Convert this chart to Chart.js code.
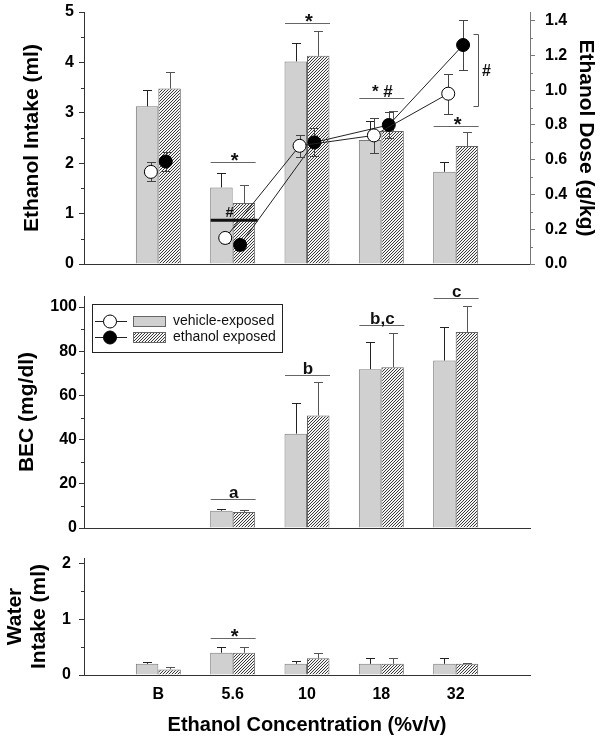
<!DOCTYPE html>
<html>
<head>
<meta charset="utf-8">
<script src="https://cdn.jsdelivr.net/npm/chart.js@4.4.1/dist/chart.umd.min.js"></script>
<style>
  html, body { margin: 0; padding: 0; background: #fff; }
  #page { position: relative; width: 602px; height: 743px; }
  .panel { position: absolute; left: 0; width: 602px; }
  .panel canvas { display: block; }
</style>
</head>
<body>
<div id="page">
  <div class="panel" style="top:0;height:268px"><canvas id="intake"></canvas></div>
  <div class="panel" style="top:0;height:268px"><canvas id="dose"></canvas></div>
  <div class="panel" style="top:280px;height:252px"><canvas id="bec"></canvas></div>
  <div class="panel" style="top:540px;height:203px"><canvas id="water"></canvas></div>
</div>
<script>
const concentrations = ['B', '5.6', '10', '18', '32'];
const groupNames = ['vehicle-exposed', 'ethanol exposed'];

// ethanol intake (ml), mean and SEM
const intakeVehicle = [3.13, 1.52, 4.02, 2.46, 1.83];
const intakeVehicleSem = [0.33, 0.29, 0.37, 0.38, 0.19];
const intakeEthanol = [3.48, 1.21, 4.13, 2.64, 2.34];
const intakeEthanolSem = [0.32, 0.36, 0.50, 0.39, 0.27];

// ethanol dose (g/kg)
const doseVehicle = [0.53, 0.15, 0.68, 0.74, 0.98];
const doseVehicleSem = [0.055, 0.03, 0.065, 0.10, 0.115];
const doseEthanol = [0.59, 0.11, 0.70, 0.80, 1.26];
const doseEthanolSem = [0.057, 0.03, 0.08, 0.075, 0.145];

// BEC (mg/dl)
const becVehicle = [null, 7.8, 42.7, 71.9, 75.8];
const becVehicleSem = [null, 0.6, 13.9, 12.3, 15.0];
const becEthanol = [null, 7.2, 50.9, 72.8, 88.7];
const becEthanolSem = [null, 1.1, 15.0, 15.4, 12.0];

// water intake (ml)
const waterVehicle = [0.20, 0.40, 0.20, 0.20, 0.20];
const waterVehicleSem = [0.03, 0.10, 0.05, 0.10, 0.10];
const waterEthanol = [0.10, 0.40, 0.30, 0.20, 0.20];
const waterEthanolSem = [0.035, 0.10, 0.10, 0.10, 0.02];

const intakeTicks = [0, 1, 2, 3, 4, 5];
const intakeMinor = [0.5, 1.5, 2.5, 3.5, 4.5];
const doseTicks = [0, 0.2, 0.4, 0.6, 0.8, 1.0, 1.2, 1.4];
const doseMinor = [0.1, 0.3, 0.5, 0.7, 0.9, 1.1, 1.3];
const becTicks = [0, 20, 40, 60, 80, 100];
const becMinor = [10, 30, 50, 70, 90];
const waterTicks = [0, 1, 2];
const waterMinor = [0.5, 1.5];

// significance marks
const intakeSig = [
    { cat: '5.6', y: 2.03, text: '*' },
    { cat: '10', y: 4.78, text: '*' },
    { cat: '18', y: 3.29, text: '* #' },
    { cat: '32', y: 2.74, text: '*' },
];
const intakeThreshold = { cat: '5.6', y: 0.87, text: '#' };
const doseBracket = { cat: '32', from: 0.91, to: 1.325, text: '#' };
const becSig = [
    { cat: '5.6', y: 13.3, text: 'a' },
    { cat: '10', y: 69.2, text: 'b' },
    { cat: '18', y: 91.9, text: 'b,c' },
    { cat: '32', y: 104.1, text: 'c' },
];
const waterSig = [
    { cat: '5.6', y: 0.66, text: '*' },
];

const FONT = "Arial, 'Liberation Sans', Helvetica, sans-serif";
const labels = ['', ...concentrations, ''];
const pad = (arr) => [null, ...arr, null];

const hatch = (() => {
    const c = document.createElement('canvas');
    c.width = 3;
    c.height = 3;
    const g = c.getContext('2d');
    g.fillStyle = '#f4f4f4';
    g.fillRect(0, 0, 3, 3);
    g.fillStyle = '#3a3a3a';
    g.fillRect(2, 0, 1, 1);
    g.fillRect(1, 1, 1, 1);
    g.fillRect(0, 2, 1, 1);
    return g.createPattern(c, 'repeat');
})();

const barSets = (veh, vehSem, eth, ethSem) => [
    {
        label: groupNames[0], data: pad(veh), errors: pad(vehSem), errColor: '#222',
        backgroundColor: '#d0d0d0', borderColor: '#7a7a7a', borderWidth: 1,
    },
    {
        label: groupNames[1], data: pad(eth), errors: pad(ethSem), errColor: '#555',
        backgroundColor: hatch, borderColor: '#666', borderWidth: 1,
    },
];

const doseSet = (vals, sem, filled) => ({
    label: groupNames[filled ? 1 : 0],
    yAxisID: 'y2',
    data: vals.map((v, i) => ({ x: i + 1 + (filled ? 0.1 : -0.1), y: v })),
    errors: sem,
    errColor: '#444',
    borderColor: '#222',
    borderWidth: 1,
    tension: 0,
    pointRadius: 6.5,
    pointBackgroundColor: filled ? '#000' : '#fff',
    pointBorderColor: '#000',
    pointBorderWidth: 1,
    segment: {
        // baseline (B) is not joined to the concentration series
        borderColor: (ctx) => ctx.p0DataIndex === 0 ? 'rgba(0,0,0,0)' : '#222',
    },
});

const drawErrors = (chart, meta, both) => {
    const ds = chart.data.datasets[meta.index];
    if (!ds.errors) {
        return;
    }
    const ys = chart.scales[meta.yAxisID];
    const ctx = chart.ctx;
    ctx.save();
    ctx.strokeStyle = ds.errColor;
    ctx.lineWidth = 1;
    ctx.beginPath();
    meta.data.forEach((el, i) => {
        const raw = ds.data[i];
        const v = raw !== null && typeof raw === 'object' ? raw.y : raw;
        const e = ds.errors[i];
        if (v == null || e == null) {
            return;
        }
        const x = Math.round(el.x) + 0.5;
        const top = Math.round(ys.getPixelForValue(v + e)) + 0.5;
        const bot = both ? Math.round(ys.getPixelForValue(v - e)) + 0.5 : ys.getPixelForValue(v);
        ctx.moveTo(x, bot);
        ctx.lineTo(x, top);
        ctx.moveTo(x - 4.5, top);
        ctx.lineTo(x + 4.5, top);
        if (both) {
            ctx.moveTo(x - 4.5, bot);
            ctx.lineTo(x + 4.5, bot);
        }
    });
    ctx.stroke();
    ctx.restore();
};

const errorBars = {
    id: 'errorBars',
    beforeDatasetDraw(chart, args) {
        if (args.meta.type === 'line') drawErrors(chart, args.meta, true);
    },
    afterDatasetDraw(chart, args) {
        if (args.meta.type === 'bar') drawErrors(chart, args.meta, false);
    },
};

const minorTicks = (axes) => ({
    id: 'minorTicks',
    afterDraw(chart) {
        const ctx = chart.ctx;
        axes.forEach(([id, values, color]) => {
            const s = chart.scales[id];
            const left = s.position === 'left';
            const x0 = left ? s.right : s.left;
            ctx.save();
            ctx.strokeStyle = color;
            ctx.lineWidth = 1;
            ctx.beginPath();
            values.forEach((v) => {
                const py = Math.round(s.getPixelForValue(v)) + 0.5;
                ctx.moveTo(x0, py);
                ctx.lineTo(x0 + (left ? -3 : 3), py);
            });
            ctx.stroke();
            ctx.restore();
        });
    },
});

const sigMarks = (items, axisId) => ({
    id: 'sigMarks',
    afterDatasetsDraw(chart) {
        const ctx = chart.ctx;
        const xs = chart.scales.x;
        const ys = chart.scales[axisId];
        ctx.save();
        items.forEach((it) => {
            const cx = xs.getPixelForValue(labels.indexOf(it.cat));
            const py = Math.round(ys.getPixelForValue(it.y)) + 0.5;
            ctx.strokeStyle = '#666';
            ctx.lineWidth = 1;
            ctx.beginPath();
            ctx.moveTo(cx - 22, py);
            ctx.lineTo(cx + 23, py);
            ctx.stroke();
            ctx.fillStyle = '#111';
            ctx.textAlign = 'center';
            ctx.textBaseline = 'alphabetic';
            if (it.text === '*') {
                ctx.font = `bold 20px ${FONT}`;
                ctx.fillText(it.text, cx + 2, py + 4);
            } else {
                ctx.font = `bold 17px ${FONT}`;
                ctx.fillText(it.text, cx + 1, py - 2);
            }
        });
        ctx.restore();
    },
});

const thresholdMark = {
    id: 'thresholdMark',
    afterDatasetsDraw(chart) {
        const ctx = chart.ctx;
        const cx = chart.scales.x.getPixelForValue(labels.indexOf(intakeThreshold.cat));
        const py = chart.scales.y.getPixelForValue(intakeThreshold.y);
        ctx.save();
        ctx.strokeStyle = '#111';
        ctx.lineWidth = 3;
        ctx.beginPath();
        ctx.moveTo(cx - 22, py);
        ctx.lineTo(cx + 25, py);
        ctx.stroke();
        ctx.fillStyle = '#111';
        ctx.font = `bold 15px ${FONT}`;
        ctx.textAlign = 'center';
        ctx.textBaseline = 'alphabetic';
        ctx.fillText(intakeThreshold.text, cx - 3, py - 3);
        ctx.restore();
    },
};

const bracketMark = {
    id: 'bracketMark',
    afterDatasetsDraw(chart) {
        const ctx = chart.ctx;
        const yr = chart.scales.y2;
        const bx = Math.round(chart.scales.x.getPixelForValue(labels.indexOf(doseBracket.cat))) + 22.5;
        const t = Math.round(yr.getPixelForValue(doseBracket.to)) + 0.5;
        const b = Math.round(yr.getPixelForValue(doseBracket.from)) + 0.5;
        ctx.save();
        ctx.strokeStyle = '#555';
        ctx.lineWidth = 1;
        ctx.beginPath();
        ctx.moveTo(bx - 5, t);
        ctx.lineTo(bx, t);
        ctx.lineTo(bx, b);
        ctx.lineTo(bx - 5, b);
        ctx.stroke();
        ctx.fillStyle = '#111';
        ctx.font = `bold 16px ${FONT}`;
        ctx.textAlign = 'center';
        ctx.textBaseline = 'alphabetic';
        ctx.fillText(doseBracket.text, bx + 8, (t + b) / 2 + 5);
        ctx.restore();
    },
};

const becLegend = {
    id: 'becLegend',
    afterDraw(chart) {
        const ctx = chart.ctx;
        const x0 = chart.chartArea.left + 8;
        const y0 = chart.chartArea.top + 8;
        ctx.save();
        ctx.fillStyle = '#fff';
        ctx.fillRect(x0, y0, 190, 48);
        ctx.strokeStyle = '#222';
        ctx.lineWidth = 1;
        ctx.strokeRect(x0 + 0.5, y0 + 0.5, 190, 48);
        const fills = ['#d0d0d0', hatch];
        const points = ['#fff', '#000'];
        groupNames.forEach((name, i) => {
            const cy = Math.round(y0 + 16.5 + i * 16.7) + 0.5;
            ctx.strokeStyle = '#222';
            ctx.beginPath();
            ctx.moveTo(x0 + 3, cy);
            ctx.lineTo(x0 + 35, cy);
            ctx.stroke();
            ctx.beginPath();
            ctx.arc(x0 + 18, cy, 6.5, 0, Math.PI * 2);
            ctx.fillStyle = points[i];
            ctx.fill();
            ctx.strokeStyle = '#000';
            ctx.stroke();
            ctx.fillStyle = fills[i];
            ctx.fillRect(x0 + 41, cy - 5, 32, 10);
            ctx.strokeStyle = '#666';
            ctx.strokeRect(x0 + 41.5, cy - 5, 32, 10);
            ctx.fillStyle = '#111';
            ctx.font = `14px ${FONT}`;
            ctx.textAlign = 'left';
            ctx.textBaseline = 'middle';
            ctx.fillText(name, x0 + 81, cy);
        });
        ctx.restore();
    },
};

// fix an axis box size and stop its label overflow from moving the plot area
const fixSize = (s, size, horizontal) => {
    if (horizontal) s.height = size; else s.width = size;
    s.paddingTop = 0;
    s.paddingBottom = 0;
    s.paddingLeft = 0;
    s.paddingRight = 0;
};

const yAxis = (cfg) => ({
    type: 'linear',
    position: cfg.position || 'left',
    min: 0,
    max: cfg.max,
    afterBuildTicks: (s) => { s.ticks = cfg.ticks.map((v) => ({ value: v })); },
    afterFit: (s) => fixSize(s, cfg.width, false),
    border: { display: true, color: cfg.color || '#333', width: 1 },
    grid: { display: true, drawOnChartArea: false, drawTicks: true, tickLength: 5, color: cfg.color || '#333' },
    ticks: {
        padding: cfg.padding,
        color: '#000',
        font: { family: FONT, size: 16, weight: 'bold' },
        callback: cfg.format || ((v) => String(v)),
    },
    title: {
        display: true,
        text: cfg.title,
        color: '#000',
        font: { family: FONT, size: 21, weight: 'bold', lineHeight: 1.15 },
        padding: { top: cfg.titlePad, bottom: 0 },
    },
});

const xAxis = (height, showLabels) => ({
    type: 'category',
    offset: false,
    afterFit: (s) => fixSize(s, height, true),
    border: { display: true, color: '#333', width: 1 },
    grid: { display: false, drawTicks: false },
    ticks: {
        display: showLabels,
        padding: 10,
        maxRotation: 0,
        autoSkip: false,
        color: '#000',
        font: { family: FONT, size: 16, weight: 'bold' },
    },
    title: {
        display: showLabels,
        text: 'Ethanol Concentration (%v/v)',
        color: '#000',
        font: { family: FONT, size: 20, weight: 'bold' },
        padding: { top: 0, bottom: 6 },
    },
});

// invisible axis that only reserves the same room as a visible one
const spacer = (axisCfg, size, horizontal) => ({
    ...axisCfg,
    afterFit: (s) => fixSize(s, size, horizontal),
    border: { display: false },
    grid: { display: false, drawTicks: false },
    ticks: { display: false },
    title: { display: false },
});

const baseOptions = (padding, scales) => ({
    responsive: true,
    maintainAspectRatio: false,
    animation: false,
    events: [],
    layout: { autoPadding: false, padding },
    datasets: { bar: { categoryPercentage: 0.605, barPercentage: 1.0 } },
    plugins: { legend: { display: false }, tooltip: { enabled: false } },
    scales,
});

new Chart(document.getElementById('intake'), {
    type: 'bar',
    data: {
        labels,
        datasets: barSets(intakeVehicle, intakeVehicleSem, intakeEthanol, intakeEthanolSem),
    },
    options: baseOptions({ top: 12, left: 0, right: 72, bottom: 0 }, {
        x: xAxis(4, false),
        y: yAxis({ max: 5, ticks: intakeTicks, width: 84, padding: 5, title: 'Ethanol Intake (ml)', titlePad: 20 }),
    }),
    plugins: [errorBars, minorTicks([['y', intakeMinor, '#333']]), sigMarks(intakeSig, 'y'), thresholdMark],
});

// dose lines share the top panel, drawn on a transparent overlay
new Chart(document.getElementById('dose'), {
    type: 'line',
    data: {
        datasets: [
            doseSet(doseVehicle, doseVehicleSem, false),
            doseSet(doseEthanol, doseEthanolSem, true),
        ],
    },
    options: baseOptions({ top: 12, left: 0, right: 0, bottom: 0 }, {
        x: spacer({ type: 'linear', position: 'bottom', min: 0, max: labels.length - 1 }, 4, true),
        y: spacer({ type: 'linear', position: 'left', min: 0, max: 5 }, 84, false),
        y2: yAxis({
            position: 'right', max: 1.45, ticks: doseTicks, width: 72, padding: 10, color: '#777',
            title: 'Ethanol Dose (g/kg)', titlePad: 4, format: (v) => v.toFixed(1),
        }),
    }),
    plugins: [errorBars, minorTicks([['y2', doseMinor, '#777']]), bracketMark],
});

new Chart(document.getElementById('bec'), {
    type: 'bar',
    data: {
        labels,
        datasets: barSets(becVehicle, becVehicleSem, becEthanol, becEthanolSem),
    },
    options: baseOptions({ top: 16, left: 0, right: 72, bottom: 0 }, {
        x: xAxis(4, false),
        y: yAxis({ max: 105, ticks: becTicks, width: 84, padding: 2, title: 'BEC (mg/dl)', titlePad: 15 }),
    }),
    plugins: [errorBars, minorTicks([['y', becMinor, '#333']]), sigMarks(becSig, 'y'), becLegend],
});

new Chart(document.getElementById('water'), {
    type: 'bar',
    data: {
        labels,
        datasets: barSets(waterVehicle, waterVehicleSem, waterEthanol, waterEthanolSem),
    },
    options: baseOptions({ top: 18, left: 0, right: 72, bottom: 0 }, {
        x: xAxis(68, true),
        y: yAxis({ max: 2.1, ticks: waterTicks, width: 84, padding: 8, title: ['Water', 'Intake (ml)'], titlePad: 3 }),
    }),
    plugins: [errorBars, minorTicks([['y', waterMinor, '#333']]), sigMarks(waterSig, 'y')],
});
</script>
</body>
</html>
